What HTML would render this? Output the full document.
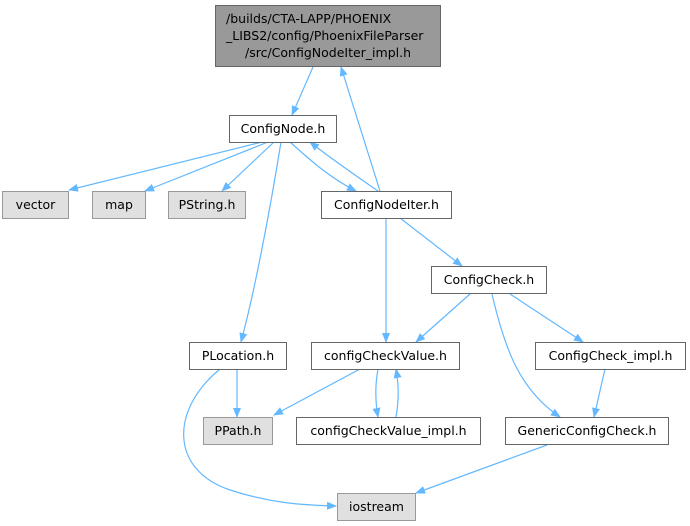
<!DOCTYPE html>
<html><head><meta charset="utf-8"><style>
html,body{margin:0;padding:0;background:#fff;width:690px;height:526px;overflow:hidden}
text{font-family:"DejaVu Sans","Liberation Sans",sans-serif;font-size:12.5px;fill:#000}
</style></head><body>
<svg width="690" height="526" viewBox="0 0 690 526" xmlns="http://www.w3.org/2000/svg">
<defs><marker id="a" markerWidth="10" markerHeight="8" refX="9" refY="4" orient="auto" markerUnits="userSpaceOnUse"><path d="M0,0 L10,4 L0,8 z" fill="#63b8ff"/></marker></defs>
<g fill="none" stroke="#63b8ff" stroke-width="1.2" marker-end="url(#a)">
<path d="M313,67 L292,115"/>
<path d="M262,142 L69,190"/>
<path d="M268,142 L145,191"/>
<path d="M274,142 L222,191"/>
<path d="M290,142 C310,160 330,178 356,191"/>
<path d="M378,191 C355,175 330,158 310,142"/>
<path d="M380,191 L341,67"/>
<path d="M281,142 C270,210 255,290 241,342"/>
<path d="M386,218 L386,342"/>
<path d="M400,218 L462,266"/>
<path d="M470,294 L416,342"/>
<path d="M510,294 L583,342"/>
<path d="M492,294 C505,350 520,390 560,417"/>
<path d="M605,369 L594,417"/>
<path d="M237,369 L237,417"/>
<path d="M220,369 C170,410 170,470 230,490 C270,503 300,505 336,506"/>
<path d="M360,369 L274,415"/>
<path d="M378,369 C375,385 375,400 378,417"/>
<path d="M396,417 C399,400 399,385 396,369"/>
<path d="M547,445 L416,493"/>
</g>
<g stroke="#666" stroke-width="1">
<rect x="215.5" y="5.5" width="225" height="61" fill="#999"/>
<rect x="229.5" y="115.5" width="107" height="27" fill="#fff"/>
<rect x="2.5" y="191.5" width="66" height="27" fill="#e0e0e0" stroke="#999"/>
<rect x="92.5" y="191.5" width="53" height="27" fill="#e0e0e0" stroke="#999"/>
<rect x="168.5" y="191.5" width="77" height="27" fill="#e0e0e0" stroke="#999"/>
<rect x="321.5" y="191.5" width="130" height="27" fill="#fff"/>
<rect x="431.5" y="266.5" width="115" height="27" fill="#fff"/>
<rect x="189.5" y="342.5" width="97" height="27" fill="#fff"/>
<rect x="311.5" y="342.5" width="148" height="27" fill="#fff"/>
<rect x="535.5" y="342.5" width="150" height="27" fill="#fff"/>
<rect x="203.5" y="417.5" width="69" height="27" fill="#e0e0e0" stroke="#999"/>
<rect x="296.5" y="417.5" width="184" height="27" fill="#fff"/>
<rect x="505.5" y="417.5" width="163" height="27" fill="#fff"/>
<rect x="337.5" y="493.5" width="78" height="27" fill="#e0e0e0" stroke="#999"/>
</g>
<text x="226" y="23">/builds/CTA-LAPP/PHOENIX</text>
<text x="226" y="40">_LIBS2/config/PhoenixFileParser</text>
<text x="328" y="57" text-anchor="middle">/src/ConfigNodeIter_impl.h</text>
<g text-anchor="middle">
<text x="283" y="133">ConfigNode.h</text>
<text x="35.5" y="209">vector</text>
<text x="119" y="209">map</text>
<text x="207" y="209">PString.h</text>
<text x="386.5" y="209">ConfigNodeIter.h</text>
<text x="489" y="284">ConfigCheck.h</text>
<text x="238" y="360">PLocation.h</text>
<text x="385.5" y="360">configCheckValue.h</text>
<text x="610.5" y="360">ConfigCheck_impl.h</text>
<text x="238" y="435">PPath.h</text>
<text x="388.5" y="435">configCheckValue_impl.h</text>
<text x="587" y="435">GenericConfigCheck.h</text>
<text x="376.5" y="511">iostream</text>
</g>
</svg>
</body></html>
